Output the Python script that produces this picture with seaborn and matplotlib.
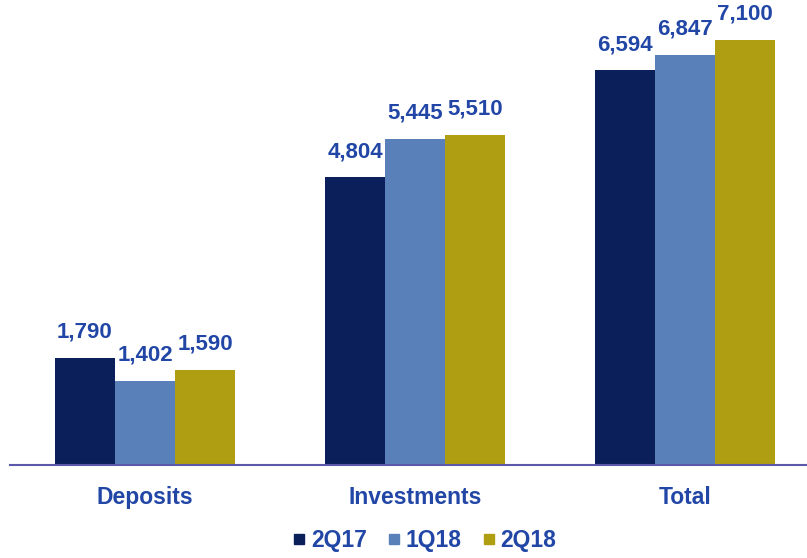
import matplotlib
matplotlib.use("Agg")
import matplotlib.pyplot as plt
import seaborn as sns
import pandas as pd
from matplotlib.lines import Line2D

categories = ["Deposits", "Investments", "Total"]
periods = ["2Q17", "1Q18", "2Q18"]
values_2q17 = [1790, 4804, 6594]
values_1q18 = [1402, 5445, 6847]
values_2q18 = [1590, 5510, 7100]
colors = ["#0b1f5a", "#5a80b9", "#b09e12"]

rows = []
for period, vals in zip(periods, [values_2q17, values_1q18, values_2q18]):
    for cat, v in zip(categories, vals):
        rows.append({"category": cat, "period": period, "value": v})
df = pd.DataFrame(rows)

sns.set_theme(style="white")
plt.rcParams["font.family"] = ["Liberation Sans", "DejaVu Sans"]

fig = plt.figure(figsize=(8.07, 5.58), dpi=100)
ax = fig.add_axes([10 / 807, 1 - 465 / 558, 797 / 807, 465 / 558])

sns.barplot(data=df, x="category", y="value", hue="period", order=categories,
            hue_order=periods, palette=colors, width=0.667, gap=0,
            saturation=1, legend=False, ax=ax, errorbar=None,
            edgecolor="none", linewidth=0)

label_color = "#2146a6"
for container in ax.containers:
    ax.bar_label(container, labels=[f"{v:,.0f}" for v in container.datavalues],
                 padding=11, color=label_color, fontsize=16, fontweight="bold")

ax.set_ylim(0, 7100 * 465 / 425)
ax.set_xlim(-0.5, (807 - 145) / 270)
ax.set_xlabel("")
ax.set_ylabel("")
ax.set_yticks([])
ax.tick_params(axis="x", length=0, pad=15)
for lbl in ax.get_xticklabels():
    lbl.set_fontsize(16.5)
    lbl.set_fontweight("bold")
    lbl.set_color(label_color)
for side in ["top", "right", "left"]:
    ax.spines[side].set_visible(False)
ax.spines["bottom"].set_color("#5a5aa8")
ax.spines["bottom"].set_linewidth(1.5)
ax.patch.set_alpha(0)

handles = [Line2D([0], [0], marker="s", linestyle="", markersize=7,
                  markerfacecolor=c, markeredgecolor=c) for c in colors]
leg = fig.legend(handles, periods, loc="center", bbox_to_anchor=(421 / 807, 1 - 541 / 558),
                 ncol=3, frameon=False, handletextpad=-0.1, columnspacing=0.6,
                 handlelength=1.2, prop={"size": 16.5, "weight": "bold"})
for t in leg.get_texts():
    t.set_color(label_color)

fig.savefig("out.png", dpi=100)
